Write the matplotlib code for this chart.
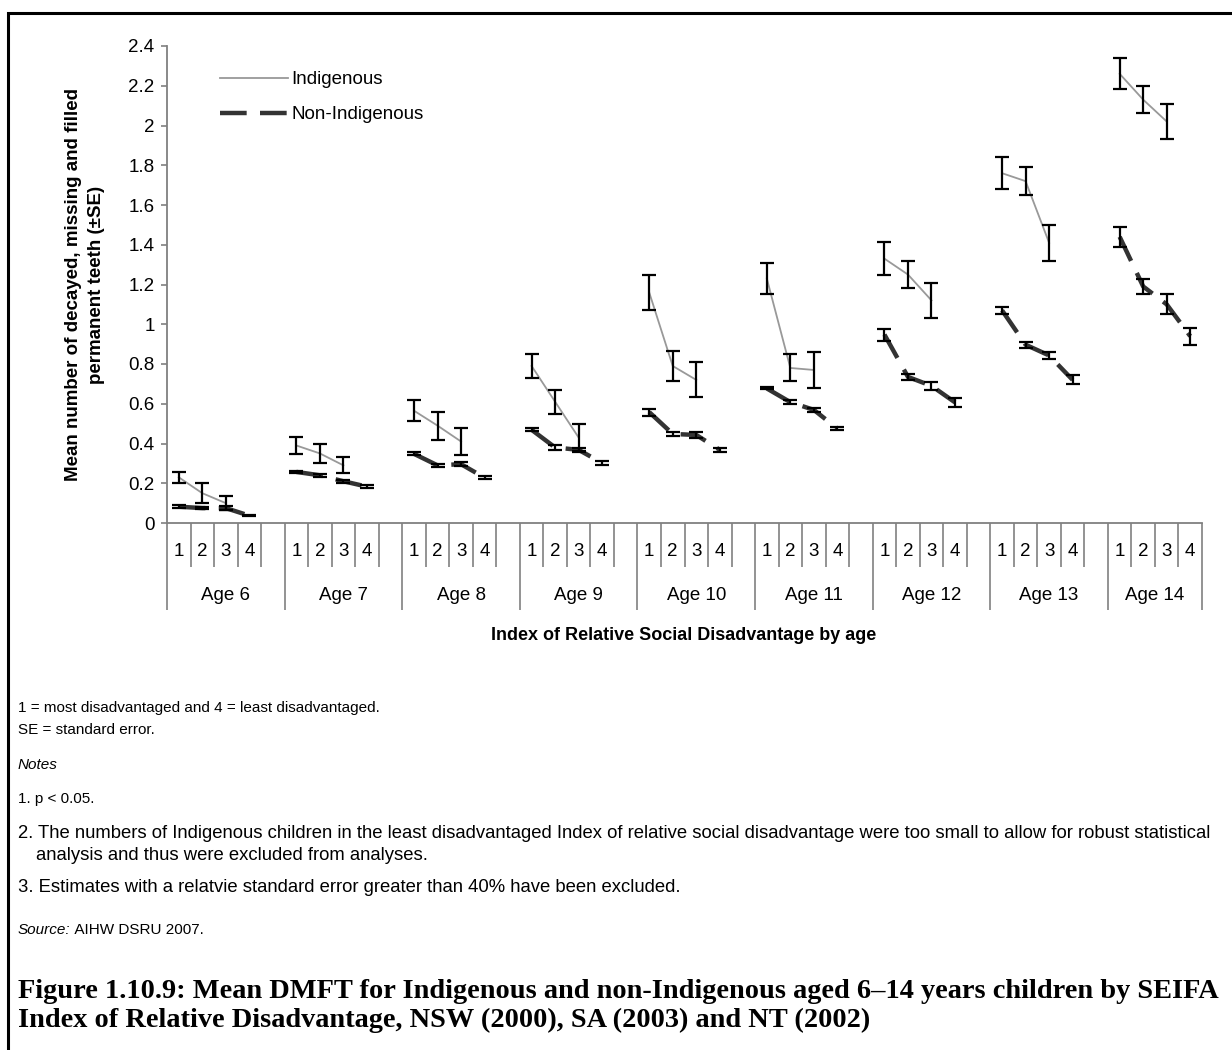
import numpy as np
import matplotlib
matplotlib.use("Agg")
import matplotlib.pyplot as plt
import matplotlib.transforms as mtransforms
from matplotlib.lines import Line2D
from matplotlib.patches import Rectangle

plt.rcParams['font.family'] = ['Liberation Sans', 'DejaVu Sans']

# ---------------- data ----------------
ages = ["Age 6", "Age 7", "Age 8", "Age 9", "Age 10", "Age 11", "Age 12", "Age 13", "Age 14"]
index_labels = ["1", "2", "3", "4"]

nan = np.nan
indig_mean = [
    [0.23, 0.15, 0.10, nan],
    [0.39, 0.35, 0.29, nan],
    [0.565, 0.49, 0.41, nan],
    [0.79, 0.61, 0.43, nan],
    [1.16, 0.79, 0.72, nan],
    [1.23, 0.78, 0.77, nan],
    [1.33, 1.25, 1.12, nan],
    [1.76, 1.72, 1.41, nan],
    [2.26, 2.13, 2.02, nan],
]
indig_se = [
    [0.028, 0.05, 0.035, nan],
    [0.042, 0.05, 0.04, nan],
    [0.053, 0.07, 0.07, nan],
    [0.06, 0.06, 0.07, nan],
    [0.087, 0.077, 0.088, nan],
    [0.078, 0.068, 0.09, nan],
    [0.083, 0.07, 0.09, nan],
    [0.082, 0.07, 0.09, nan],
    [0.078, 0.068, 0.086, nan],
]
non_mean = [
    [0.082, 0.075, 0.075, 0.037],
    [0.257, 0.24, 0.21, 0.183],
    [0.348, 0.29, 0.296, 0.228],
    [0.469, 0.38, 0.368, 0.302],
    [0.558, 0.448, 0.443, 0.368],
    [0.677, 0.608, 0.569, 0.475],
    [0.948, 0.735, 0.69, 0.607],
    [1.07, 0.897, 0.843, 0.72],
    [1.44, 1.19, 1.10, 0.94],
]
non_se = [
    [0.008, 0.005, 0.01, 0.003],
    [0.007, 0.007, 0.008, 0.008],
    [0.008, 0.008, 0.01, 0.008],
    [0.008, 0.012, 0.01, 0.008],
    [0.018, 0.008, 0.015, 0.01],
    [0.005, 0.01, 0.01, 0.008],
    [0.03, 0.017, 0.021, 0.021],
    [0.018, 0.016, 0.017, 0.023],
    [0.05, 0.037, 0.05, 0.042],
]
y_ticks = [0, 0.2, 0.4, 0.6, 0.8, 1, 1.2, 1.4, 1.6, 1.8, 2, 2.2, 2.4]
y_ticklabels = ["0", "0.2", "0.4", "0.6", "0.8", "1", "1.2", "1.4", "1.6", "1.8", "2", "2.2", "2.4"]

# -------------- layout helpers --------------
W, H = 1232, 1050
def fy(py):
    return 1 - py / H
def fx(px):
    return px / W

# flatten into category slots: 4 slots per age + 1 blank (none after last age)
n_slots = len(ages) * 5 - 1
def flatten(rows):
    out = np.full(n_slots, np.nan)
    for a, row in enumerate(rows):
        for j, v in enumerate(row):
            out[a * 5 + j] = v
    return out

x = np.arange(n_slots)
im, ise = flatten(indig_mean), flatten(indig_se)
nm, nse = flatten(non_mean), flatten(non_se)

fig = plt.figure(figsize=(W / 100, H / 100), dpi=100)
ax = fig.add_axes([fx(167), fy(523), fx(1202) - fx(167), fy(46) - fy(523)])

ax.plot(x, im, color='#999999', lw=1.3, zorder=2, label='Indigenous')
ax.plot(x, nm, color='#333333', lw=3.2, dashes=(6, 3), zorder=2, label='Non-Indigenous')
ax.errorbar(x, im, yerr=ise, fmt='none', ecolor='black', elinewidth=1.6,
            capsize=5, capthick=1.6, zorder=3)
ax.errorbar(x, nm, yerr=nse, fmt='none', ecolor='black', elinewidth=1.6,
            capsize=5, capthick=1.6, zorder=3)

ax.set_xlim(-0.5, n_slots - 0.5)
ax.set_ylim(0, 2.4)
ax.set_yticks(y_ticks)
ax.set_yticklabels(y_ticklabels)
for s in ['top', 'right']:
    ax.spines[s].set_visible(False)
for s in ['left', 'bottom']:
    ax.spines[s].set_color('#808080')
    ax.spines[s].set_linewidth(1.3)
ax.tick_params(axis='y', direction='out', length=4, width=1.2, color='#808080',
               labelsize=13.5, pad=5)

# category boundaries as ticks
bounds = np.arange(n_slots + 1) - 0.5
long_b = [b for i, b in enumerate(bounds) if i % 5 == 0 or i == n_slots]
short_b = [b for i, b in enumerate(bounds) if not (i % 5 == 0 or i == n_slots)]
ax.set_xticks(long_b)
ax.set_xticks(short_b, minor=True)
ax.set_xticklabels([])
ax.tick_params(axis='x', which='major', direction='out', length=62.5, width=1.2, color='#808080')
ax.tick_params(axis='x', which='minor', direction='out', length=31.7, width=1.2, color='#808080')

trans = mtransforms.blended_transform_factory(ax.transData, fig.transFigure)
for a, age in enumerate(ages):
    for j, lab in enumerate(index_labels):
        ax.text(a * 5 + j, fy(551), lab, transform=trans, ha='center', va='center',
                fontsize=13.5, clip_on=False)
    start = a * 5 - 0.5
    end = min(a * 5 + 4.5, n_slots - 0.5)
    ax.text((start + end) / 2, fy(595), age, transform=trans, ha='center', va='center',
            fontsize=13.5, clip_on=False)

fig.text(fx(684), fy(636), "Index of Relative Social Disadvantage by age", ha='center', va='center',
         fontsize=13, fontweight='bold')
fig.text(fx(85), fy(285), "Mean number of decayed, missing and filled\npermanent teeth (\u00b1SE)",
         rotation=90, ha='center', va='center', fontsize=13.5, fontweight='bold',
         linespacing=1.45, multialignment='center')

handles = [Line2D([], [], color='#999999', lw=1.3),
           Line2D([], [], color='#333333', lw=3.2, dashes=(6, 3))]
ax.legend(handles, ['Indigenous', 'Non-Indigenous'], loc='upper left',
          bbox_to_anchor=(fx(220), fy(71)), bbox_transform=fig.transFigure,
          frameon=False, fontsize=13.5, handlelength=3.6, handletextpad=0.2,
          labelspacing=0.95, borderpad=0, borderaxespad=0)

# ---------------- notes ----------------
nf = 11
nf2 = 13.3
fig.text(fx(18), fy(708), "1 = most disadvantaged and 4 = least disadvantaged.", fontsize=nf, va='center')
fig.text(fx(18), fy(730), "SE = standard error.", fontsize=nf, va='center')
fig.text(fx(18), fy(765), "Notes", fontsize=nf, va='center', style='italic')
fig.text(fx(18), fy(799), "1. p < 0.05.", fontsize=nf, va='center')
fig.text(fx(18), fy(833), "2. The numbers of Indigenous children in the least disadvantaged Index of relative social "
         "disadvantage were too small to allow for robust statistical", fontsize=nf2, va='center')
fig.text(fx(36), fy(856), "analysis and thus were excluded from analyses.", fontsize=nf2, va='center')
fig.text(fx(18), fy(888), "3. Estimates with a relatvie standard error greater than 40% have been excluded.",
         fontsize=nf2, va='center')
src = fig.text(fx(18), fy(930), "Source:", fontsize=nf, va='center', style='italic')
fig.canvas.draw()
r = fig.canvas.get_renderer()
bb = src.get_window_extent(r)
fig.text(bb.x1 / W, fy(930), " AIHW DSRU 2007.", fontsize=nf, va='center')

cap_font = dict(fontsize=20.4, fontweight='bold', family=['Liberation Serif', 'DejaVu Serif'], va='center')
fig.text(fx(18), fy(992), "Figure 1.10.9: Mean DMFT for Indigenous and non-Indigenous aged 6\u201314 years children by SEIFA",
         **cap_font)
fig.text(fx(18), fy(1020), "Index of Relative Disadvantage, NSW (2000), SA (2003) and NT (2002)", **cap_font)

fig.patches.append(Rectangle((fx(8), fy(H + 20)), fx(W + 20) - fx(8), fy(13) - fy(H + 20),
                             transform=fig.transFigure, fill=False, edgecolor='black', lw=2.2))

fig.savefig("out.png", dpi=100)
